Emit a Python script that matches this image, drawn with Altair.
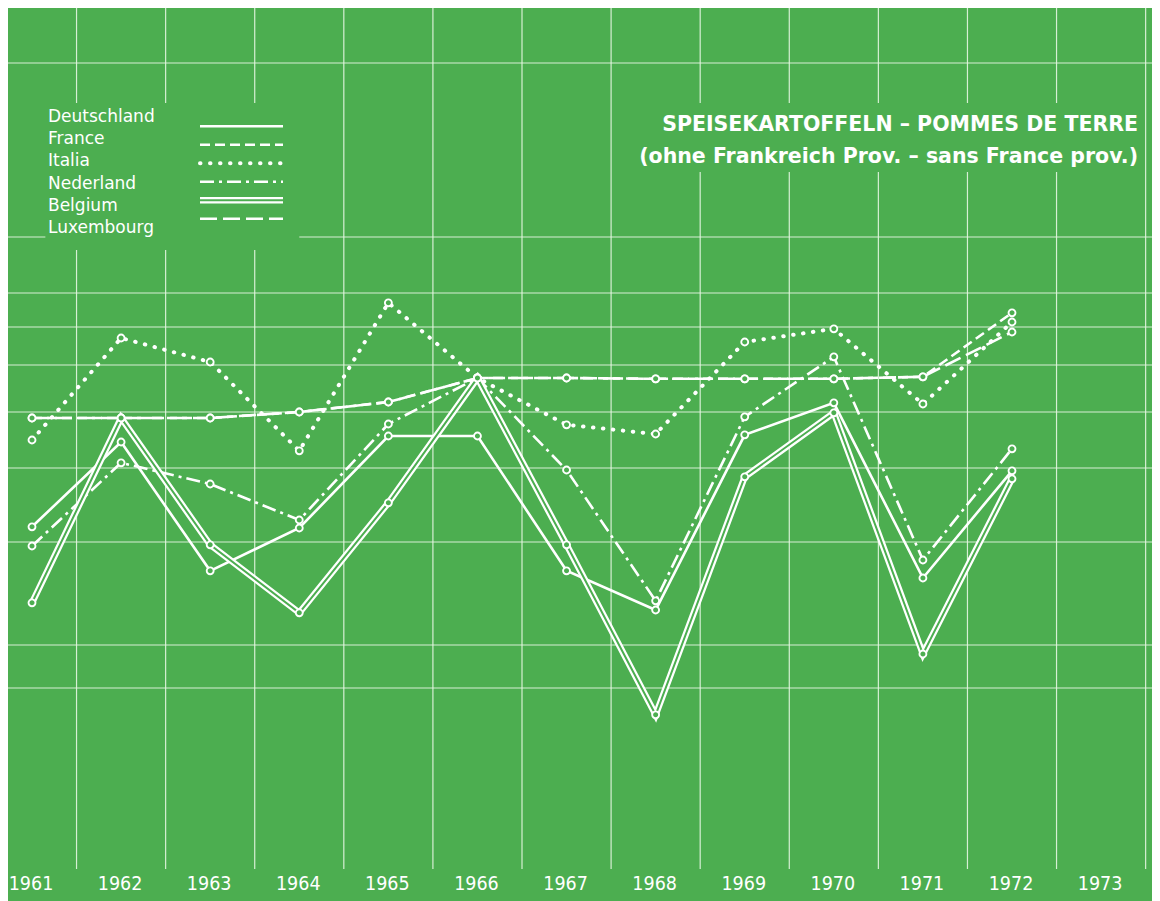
import altair as alt
import pandas as pd

# ---------------- data ----------------
years = list(range(1961, 1973))
year_ticks = list(range(1961, 1974))
series_names = ["Deutschland", "France", "Italia", "Nederland", "Belgium", "Luxembourg"]

deutschland = [72.8, 94.0, 61.8, 72.5, 95.5, 95.5, 61.8, 52.0, 95.8, 103.8, 60.0, 86.8]
france = [100.0, 100.0, 100.0, 101.5, 104.0, 110.0, 110.0, 109.8, 109.8, 109.8, 110.3, 126.3]
italia = [94.5, 120.0, 114.0, 91.8, 128.8, 110.0, 98.3, 96.0, 119.0, 122.3, 103.5, 124.0]
nederland = [68.0, 88.8, 83.5, 74.5, 98.5, 110.0, 87.0, 54.3, 100.3, 115.3, 64.5, 92.3]
belgium = [53.8, 100.0, 68.3, 51.3, 78.8, 110.0, 68.3, 25.8, 85.3, 101.3, 41.0, 84.8]
luxembourg = [100.0, 100.0, 100.0, 101.5, 104.0, 110.0, 110.0, 109.8, 109.8, 109.8, 110.3, 121.5]

title_lines = ["SPEISEKARTOFFELN – POMMES DE TERRE",
               "(ohne Frankreich Prov. – sans France prov.)"]

# background grid of the printed sheet (in data units)
vgrid_x = [1961.5 + i for i in range(13)]
hgrid_y = [188.75, 131.25, 122.75, 113.25, 101.5, 87.5, 69.0, 43.25, 32.5]
partial_hline_y = 145.25
legend_gap = [178.75, 142.0]     # vertical lines interrupted by legend
title_gap = [178.75, 161.5]      # vertical lines interrupted by title

# ---------------- constants ----------------
GREEN = "#4cae50"
W, H = 1144, 861
XDOM = [1960.7306, 1973.5714]
YDOM = [-12.75, 202.5]
xs = alt.Scale(domain=XDOM, nice=False, zero=False)
ys = alt.Scale(domain=YDOM, nice=False, zero=False)
GRID_COLOR = "#e6f6e2"

values = {"Deutschland": deutschland, "France": france, "Italia": italia,
          "Nederland": nederland, "Belgium": belgium, "Luxembourg": luxembourg}
rows = []
for s in series_names:
    for y, v in zip(years, values[s]):
        rows.append({"year": y, "series": s, "value": v})
df = pd.DataFrame(rows)

# grid segment tables
vseg = []
for gx in vgrid_x:
    if gx <= 1963.5:
        vseg.append({"x": gx, "y1": YDOM[0], "y2": legend_gap[1]})
        vseg.append({"x": gx, "y1": legend_gap[0], "y2": YDOM[1]})
    elif 1968.4 < gx < 1972.6:
        vseg.append({"x": gx, "y1": YDOM[0], "y2": title_gap[1]})
        vseg.append({"x": gx, "y1": title_gap[0], "y2": YDOM[1]})
    else:
        vseg.append({"x": gx, "y1": YDOM[0], "y2": YDOM[1]})
vseg = pd.DataFrame(vseg)
hseg = pd.DataFrame([{"y": gy, "x1": XDOM[0], "x2": XDOM[1]} for gy in hgrid_y]
                    + [{"y": partial_hline_y, "x1": XDOM[0], "x2": 1961.15},
                       {"y": partial_hline_y, "x1": 1964.0, "x2": XDOM[1]}])

vgrid = alt.Chart(vseg).mark_rule(color=GRID_COLOR, strokeWidth=1.2, opacity=0.9).encode(
    x=alt.X("x:Q", scale=xs, axis=None),
    y=alt.Y("y1:Q", scale=ys, axis=None),
    y2="y2:Q",
)
hgrid = alt.Chart(hseg).mark_rule(color=GRID_COLOR, strokeWidth=1.2, opacity=0.9).encode(
    y=alt.Y("y:Q", scale=ys, axis=None),
    x=alt.X("x1:Q", scale=xs, axis=None),
    x2="x2:Q",
)

styles = {
    "Deutschland": dict(strokeWidth=2.6),
    "France": dict(strokeWidth=2.6, strokeDash=[10, 5]),
    "Italia": dict(strokeWidth=4, strokeDash=[0.5, 9.5], strokeCap="round"),
    "Nederland": dict(strokeWidth=2.6, strokeDash=[14, 5, 3, 5]),
    "Belgium": dict(strokeWidth=6.5),
    "Luxembourg": dict(strokeWidth=2.6, strokeDash=[17, 6]),
}

layers = [vgrid, hgrid]
for s in series_names:
    base = alt.Chart(df).transform_filter(alt.datum.series == s)
    layers.append(base.mark_line(color="white", **styles[s]).encode(
        x=alt.X("year:Q", scale=xs, axis=None),
        y=alt.Y("value:Q", scale=ys, axis=None)))
    if s == "Belgium":
        layers.append(base.mark_line(color=GREEN, strokeWidth=2).encode(
            x=alt.X("year:Q", scale=xs, axis=None),
            y=alt.Y("value:Q", scale=ys, axis=None)))

points = alt.Chart(df).mark_point(shape="circle", filled=False, fill=GREEN, stroke="white",
                                  strokeWidth=1.9, size=48, opacity=1).encode(
    x=alt.X("year:Q", scale=xs, axis=None),
    y=alt.Y("value:Q", scale=ys, axis=None))
layers.append(points)

# ---------------- year labels (x axis) ----------------
yl_df = pd.DataFrame({"year": year_ticks, "label": [str(y) for y in year_ticks]})
year_labels = alt.Chart(yl_df).mark_text(
    align="center", baseline="middle", color="white", dx=-1,
    font="Liberation Sans Narrow, DejaVu Sans Condensed, sans-serif", fontSize=19.5).encode(
    x=alt.X("year:Q", scale=xs, axis=None),
    y=alt.value(876),
    text="label:N")
layers.append(year_labels)

# ---------------- legend ----------------
leg_df = pd.DataFrame({"series": series_names})
leg_scale = alt.Scale(domain=series_names, range=[109, 220], padding=0)
leg_text = alt.Chart(leg_df).mark_text(align="left", baseline="middle", color="white",
                                        font="DejaVu Sans", fontSize=17).encode(
    x=alt.value(40),
    y=alt.Y("series:N", scale=leg_scale, axis=None),
    text="series:N")
layers.append(leg_text)
for s in series_names:
    lb = alt.Chart(leg_df).transform_filter(alt.datum.series == s)
    layers.append(lb.mark_rule(color="white", **styles[s]).encode(
        x=alt.value(192), x2=alt.value(275),
        y=alt.Y("series:N", scale=leg_scale, axis=None)))
    if s == "Belgium":
        layers.append(lb.mark_rule(color=GREEN, strokeWidth=2).encode(
            x=alt.value(190), x2=alt.value(277),
            y=alt.Y("series:N", scale=leg_scale, axis=None)))

# ---------------- title ----------------
title_df = pd.DataFrame({"line": title_lines, "order": [0, 1]})
title = alt.Chart(title_df).mark_text(align="right", baseline="middle", color="white",
                                       font="DejaVu Sans", fontWeight="bold", fontSize=20.5).encode(
    x=alt.value(1130),
    y=alt.Y("order:O", scale=alt.Scale(domain=[0, 1], range=[117, 149], padding=0), axis=None),
    text="line:N")
layers.append(title)

chart = alt.layer(*layers).resolve_scale(y="independent").properties(
    width=W, height=H,
    autosize=alt.AutoSizeParams(type="none"),
    padding={"left": 0, "top": 0, "right": 0, "bottom": 32},
    background=GREEN,
).configure_view(stroke=None)

chart.save("out.html", embed_options={"renderer": "svg", "actions": False})
